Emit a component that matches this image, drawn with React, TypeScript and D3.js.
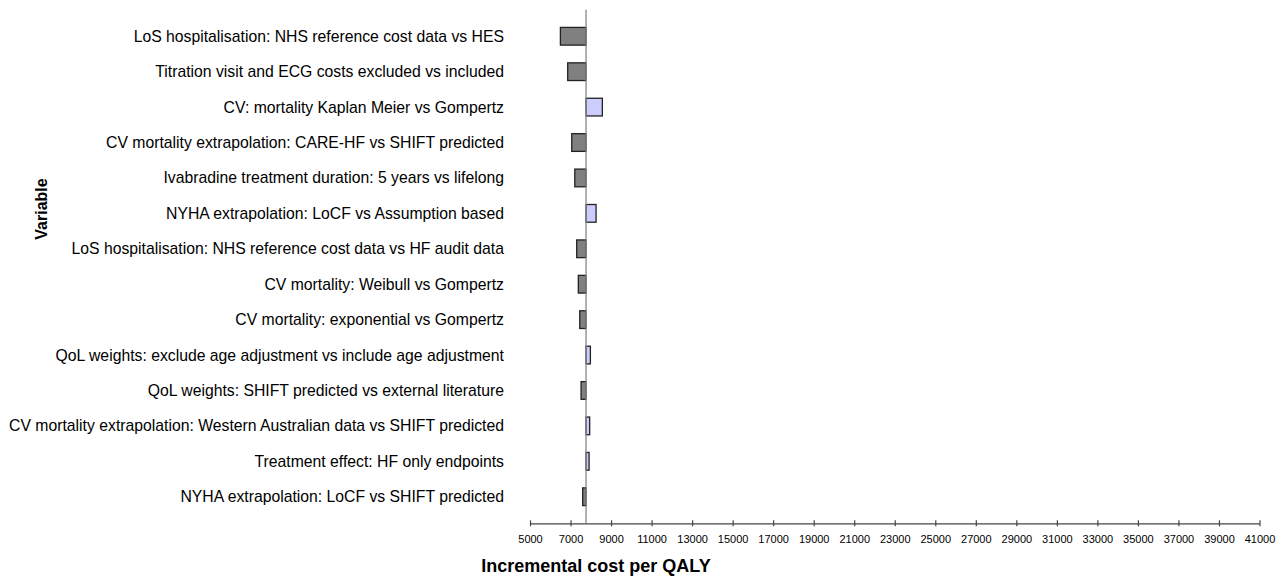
import React, { useEffect, useRef } from 'react';
import * as d3 from 'd3';

// variables, top to bottom
const variables = [
  'LoS hospitalisation: NHS reference cost data vs HES',
  'Titration visit and ECG costs excluded vs included',
  'CV: mortality Kaplan Meier vs Gompertz ',
  'CV mortality extrapolation: CARE-HF vs SHIFT predicted',
  'Ivabradine treatment duration: 5 years vs lifelong ',
  'NYHA extrapolation: LoCF vs Assumption based',
  'LoS hospitalisation: NHS reference cost data vs HF audit data',
  'CV mortality: Weibull vs Gompertz',
  'CV mortality: exponential vs Gompertz',
  'QoL weights: exclude age adjustment vs include age adjustment',
  'QoL weights: SHIFT predicted vs external literature ',
  'CV mortality extrapolation: Western Australian data vs SHIFT predicted',
  'Treatment effect: HF only endpoints',
  'NYHA extrapolation: LoCF vs SHIFT predicted',
];

// ICER under each alternative assumption
const icerValues = [6500, 6860, 8570, 7060, 7210, 8260, 7305, 7385, 7455, 7980, 7520, 7945, 7915, 7600];

const baseCase = 7765;

const tickValues = d3.range(5000, 41001, 2000);

const width = 1276;
const height = 577;

function App() {
  const axisRef = useRef<SVGGElement>(null);

  const x = d3.scaleLinear().domain([5000, 41000]).range([530, 1259.5]);
  const y = d3.scaleBand().domain(variables).range([9.7, 523.3]).padding(0.5);
  const axisY = 523.3;

  useEffect(() => {
    const g = d3.select(axisRef.current);
    g.selectAll('*').remove();
    g.call(
      d3.axisBottom(x).tickValues(tickValues).tickFormat(d3.format('d')).tickSize(3).tickSizeOuter(0)
    );
    g.select('.domain').attr('stroke', '#444').attr('stroke-width', 1.2);
    g.selectAll('.tick line').attr('y1', -3).attr('y2', 3).attr('stroke', '#444').attr('stroke-width', 1.2);
    g.selectAll('.tick text')
      .attr('y', 12)
      .attr('fill', '#000')
      .style('font-size', '11px')
      .style('font-family', 'Arial, "Liberation Sans", sans-serif');
  }, []);

  const font = 'Arial, "Liberation Sans", sans-serif';

  return (
    <svg
      width={width}
      height={height}
      style={{ position: 'absolute', left: 0, top: 0, background: '#fff' }}
    >
      {variables.map((v, i) => {
        const val = icerValues[i];
        const x0 = x(Math.min(val, baseCase));
        const x1 = x(Math.max(val, baseCase));
        return (
          <g key={v}>
            <text
              x={504}
              y={(y(v) ?? 0) + y.bandwidth() / 2}
              textAnchor="end"
              dominantBaseline="central"
              fontFamily={font}
              fontSize={15.75}
              fill="#000"
            >
              {v}
            </text>
            <rect
              x={x0}
              y={y(v)}
              width={x1 - x0}
              height={y.bandwidth()}
              fill={val < baseCase ? '#808080' : '#ccccff'}
              stroke="#222"
              strokeWidth={1.3}
            />
          </g>
        );
      })}

      {/* base case line */}
      <line x1={x(baseCase)} x2={x(baseCase)} y1={9.7} y2={axisY} stroke="#888" strokeWidth={1.3} />

      <g ref={axisRef} transform={`translate(0,${axisY})`} />

      <text
        x={596}
        y={572}
        textAnchor="middle"
        fontFamily={font}
        fontWeight="bold"
        fontSize={18}
        fill="#000"
      >
        Incremental cost per QALY
      </text>
      <text
        transform="translate(47,209) rotate(-90)"
        textAnchor="middle"
        fontFamily={font}
        fontWeight="bold"
        fontSize={16}
        fill="#000"
      >
        Variable
      </text>
    </svg>
  );
}

export default App;
